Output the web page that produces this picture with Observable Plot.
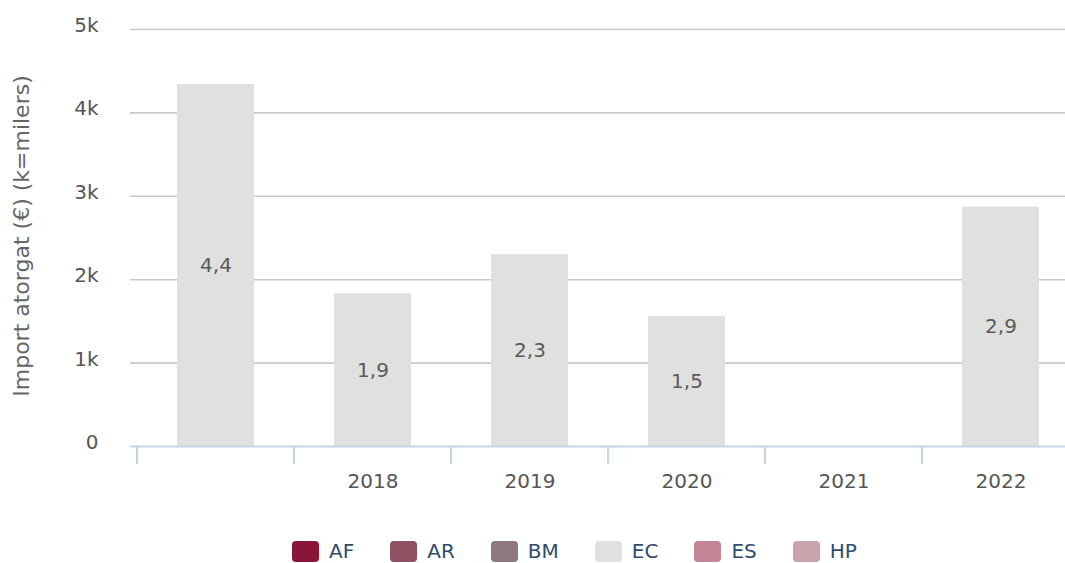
<!DOCTYPE html>
<html>
<head>
<meta charset="utf-8">
<script src="https://cdn.jsdelivr.net/npm/d3@7"></script>
<script src="https://cdn.jsdelivr.net/npm/@observablehq/plot@0.6"></script>
<style>
  html, body { margin: 0; padding: 0; background: #fff; }
  body { font-family: "DejaVu Sans", Verdana, sans-serif; width: 1065px; height: 563px; overflow: hidden; }
  #legend { display: flex; justify-content: center; align-items: center; margin-top: 24px; padding-left: 84px; }
  .item { display: flex; align-items: center; margin: 0 18px; }
  .sw { width: 27px; height: 21px; border-radius: 4px; margin-right: 10px; }
  .lab { font-size: 20px; color: #2f4c6e; }
</style>
</head>
<body>
<div id="chart"></div>
<div id="legend"></div>
<script>
// ---- data ----
const years = ["", "2018", "2019", "2020", "2021", "2022"];
const amounts = [4340, 1830, 2300, 1560, null, 2870];
const barLabels = ["4,4", "1,9", "2,3", "1,5", "", "2,9"];
const yTicks = [0, 1000, 2000, 3000, 4000, 5000];
const yTickLabels = ["0", "1k", "2k", "3k", "4k", "5k"];
const seriesNames = ["AF", "AR", "BM", "EC", "ES", "HP"];
const seriesColors = ["#8a1538", "#8f5062", "#8e7980", "#e0e0df", "#c48596", "#c9a4ad"];
const yTitle = "Import atorgat (€) (k=milers)";

const rows = years.map((y, i) => ({year: y, value: amounts[i], label: barLabels[i]}));
const bars = rows.filter(d => d.value != null);

const W = 1065, H = 515;
const x0 = 133.5, x1 = 1081;
const step = (x1 - x0) / years.length;

const chart = Plot.plot({
  width: W,
  height: H,
  marginLeft: 130,
  marginRight: 0,
  marginTop: 29,
  marginBottom: 69,
  style: {fontFamily: "DejaVu Sans, Verdana, sans-serif", background: "#fff", overflow: "visible"},
  x: {type: "band", domain: years, range: [x0, x1], paddingInner: 0.5, paddingOuter: 0.25, label: null},
  y: {domain: [0, 5000], label: null},
  marks: [
    Plot.gridY(yTicks.filter(t => t > 0), {stroke: "#c9c9c9", strokeOpacity: 1, strokeWidth: 1.6}),
    Plot.barY(bars, {x: "year", y: "value", fill: seriesColors[3], insetLeft: 1, insetRight: 1}),
    Plot.text(bars, {x: "year", y: d => d.value / 2, text: "label", fill: "#5a5a5a", fontSize: 20}),
    Plot.ruleY([0], {stroke: "#c5d4e6", strokeWidth: 2}),
    Plot.axisX({tickSize: 18, tickFormat: () => "", stroke: "#c5d4e6", strokeWidth: 2, strokeOpacity: 1, dx: -step / 2, label: null}),
    Plot.axisX({tickSize: 0, tickPadding: 27, fontSize: 20, fill: "#555", label: null}),
    Plot.axisY({ticks: yTicks, tickFormat: (d, i) => yTickLabels[i], tickSize: 0, tickPadding: 32, fontSize: 20, fill: "#555", dy: -4, label: null}),
    Plot.text([yTitle], {frameAnchor: "left", dx: -109, dy: -2, rotate: -90, textAnchor: "middle", text: d => d, fontSize: 22, fill: "#666", letterSpacing: "1.3px"})
  ]
});
document.getElementById("chart").appendChild(chart);

const legend = document.getElementById("legend");
seriesNames.forEach((n, i) => {
  const it = document.createElement("div");
  it.className = "item";
  const sw = document.createElement("div");
  sw.className = "sw";
  sw.style.background = seriesColors[i];
  const lb = document.createElement("span");
  lb.className = "lab";
  lb.textContent = n;
  it.appendChild(sw); it.appendChild(lb);
  legend.appendChild(it);
});
</script>
</body>
</html>
